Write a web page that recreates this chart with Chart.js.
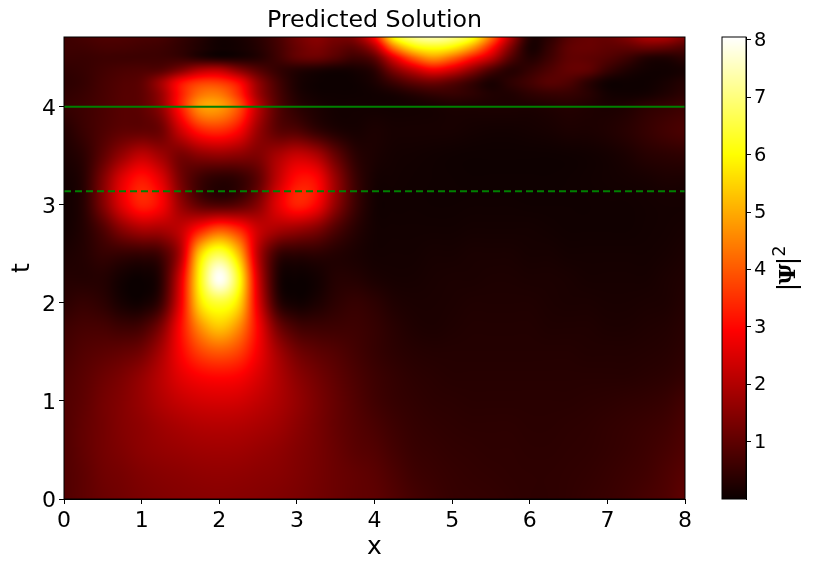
<!DOCTYPE html>
<html><head><meta charset="utf-8">
<script src="https://cdn.jsdelivr.net/npm/chart.js@4"></script>
<style>html,body{margin:0;padding:0;background:#fff;width:816px;height:568px;overflow:hidden}
canvas{position:absolute;top:0;display:block}</style></head>
<body>
<canvas id="main" width="700" height="568" style="left:0"></canvas>
<canvas id="bar" width="116" height="568" style="left:700px"></canvas>
<script>
const xValues=[0,.25,.5,.75,1,1.25,1.5,1.75,2,2.25,2.5,2.75,3,3.25,3.5,3.75,4,4.25,4.5,4.75,5,5.25,5.5,5.75,6,6.25,6.5,6.75,7,7.25,7.5,7.75,8];
const tValues=[0,.25,.5,.75,1,1.25,1.5,1.75,2,2.25,2.5,2.75,3,3.25,3.5,3.75,4,4.125,4.25,4.375,4.5,4.6,4.712];
const xTicks=[0,1,2,3,4,5,6,7,8];
const tTicks=[0,1,2,3,4];
const barTicks=[1,2,3,4,5,6,7,8];
const solidLineT=4, dashedLineT=3.14;
const row000=[.85,1,1.15,1.25,1.35,1.42,1.47,1.5,1.52,1.5,1.47,1.42,1.35,1.25,1.15,1.05,1,.85,.7,.6,.52,.5,.48,.45,.42,.42,.45,.5,.55,.62,.72,.82,1];
const row025=[.85,1,1.2,1.3,1.42,1.5,1.55,1.6,1.62,1.6,1.55,1.5,1.4,1.28,1.15,1.05,.95,.78,.62,.55,.5,.47,.45,.43,.42,.42,.44,.47,.52,.58,.65,.78,.92];
const row050=[.85,1.05,1.25,1.4,1.55,1.65,1.72,1.78,1.8,1.78,1.7,1.6,1.45,1.3,1.12,.95,.85,.68,.55,.5,.46,.44,.42,.42,.4,.4,.42,.44,.48,.53,.6,.7,.82];
const row075=[.85,1.05,1.25,1.45,1.6,1.78,1.92,2.02,2.05,2.02,1.92,1.78,1.55,1.32,1.08,.9,.75,.6,.5,.45,.42,.4,.4,.4,.38,.38,.4,.42,.46,.5,.55,.62,.75];
const row100=[.85,1,1.25,1.45,1.7,2,2.25,2.4,2.45,2.4,2.2,1.95,1.65,1.35,1.08,.85,.65,.52,.45,.4,.38,.36,.36,.36,.36,.36,.36,.38,.4,.43,.46,.52,.65];
const row125=[.8,.95,1.15,1.35,1.65,2.1,2.6,2.9,3,2.9,2.5,2,1.55,1.25,1,.78,.6,.48,.4,.36,.33,.33,.33,.33,.33,.33,.33,.33,.33,.33,.36,.4,.48];
const row150=[.7,.85,.95,1.05,1.25,1.9,2.9,3.7,4,3.7,2.8,1.85,1.25,1,.85,.68,.52,.4,.33,.3,.3,.3,.3,.3,.3,.3,.3,.28,.28,.28,.3,.33,.4];
const row175=[.6,.7,.7,.6,.7,1.4,3,4.6,5.3,4.6,2.9,1.3,.7,.6,.6,.6,.5,.35,.25,.22,.25,.28,.28,.28,.28,.25,.25,.25,.22,.22,.25,.28,.35];
const row200=[.4,.5,.4,.15,.1,.6,2.7,5.6,6.4,5.6,2.6,.5,.1,.2,.4,.5,.4,.25,.2,.2,.22,.25,.25,.25,.25,.22,.2,.2,.18,.18,.2,.22,.3];
const row225=[.3,.3,.3,.1,.03,.4,2.5,6,8,6.2,2.4,.3,.03,.1,.3,.3,.2,.15,.15,.18,.2,.2,.22,.22,.2,.2,.18,.15,.15,.15,.15,.2,.25];
const row250=[.2,.3,.5,.5,.5,.7,2,5.4,6.6,5.2,2.1,.6,.4,.4,.3,.2,.12,.12,.12,.15,.15,.18,.18,.18,.15,.15,.12,.12,.12,.12,.12,.15,.2];
const row275=[.1,.3,.8,1.5,1.9,1.9,2.2,3.2,3.9,3.4,2.3,1.9,1.7,1.4,.8,.35,.12,.1,.1,.1,.1,.12,.12,.12,.12,.1,.08,.08,.08,.08,.1,.12,.15];
const row300=[.08,.35,1.4,2.6,3.3,2.9,1.7,1,.8,.95,1.5,2.6,3.3,2.9,1.6,.6,.12,.08,.08,.07,.07,.08,.08,.08,.07,.07,.07,.07,.08,.08,.1,.12,.12];
const row325=[.1,.35,1.4,2.6,3.2,2.6,1.3,.6,.35,.45,1,2.2,3.1,3,1.7,.6,.15,.1,.08,.07,.06,.05,.05,.05,.05,.05,.06,.08,.1,.12,.15,.2,.2];
const row350=[.2,.4,1,1.7,2.2,1.8,1.3,1.5,1.6,1.5,1.4,1.9,2.3,2,1.1,.4,.2,.12,.1,.08,.06,.05,.05,.05,.05,.05,.06,.08,.12,.2,.32,.38,.42];
const row375=[.3,.55,.8,1,1.05,1.2,2.3,3.2,3.4,2.9,1.7,1,.85,.5,.25,.15,.2,.15,.15,.15,.15,.12,.1,.1,.12,.15,.2,.2,.25,.35,.5,.65,.75];
const row400=[.5,.6,.75,.9,1,1.6,3.2,4.7,4.8,3.9,2.1,.9,.4,.2,.1,.1,.1,.1,.12,.15,.2,.2,.2,.2,.2,.25,.3,.25,.2,.25,.4,.5,.6];
const row412=[.45,.55,.72,.88,1,1.7,3.2,4.3,4.4,3.5,1.8,.8,.25,.08,.05,.05,.08,.15,.3,.45,.5,.4,.25,.25,.4,.5,.5,.35,.12,.08,.12,.25,.4];
const row425=[.4,.5,.7,.85,1,1.8,3,3.6,3.6,3,1.6,.7,.2,.05,.03,.05,.2,.6,1,1.2,.95,.55,.2,.4,.65,.9,.8,.4,.08,.05,.05,.15,.3];
const row437=[.45,.52,.65,.75,.8,.9,1.4,2,2.1,1.5,.9,.5,.3,.2,.12,.15,.4,1.4,2.2,2.8,2.4,1.6,.8,.35,.5,.8,1.05,1,.55,.25,.1,.08,.15];
const row450=[.55,.55,.6,.6,.6,.6,.55,.35,.2,.2,.3,.6,1,1.1,.85,.6,1,2.6,4,4.75,4.2,3.2,2.2,.9,.3,.6,1,1,.85,.6,.3,.25,.4];
const row460=[.6,.62,.7,.7,.65,.6,.45,.25,.08,.12,.3,.65,1.1,1.35,1.1,1,1.9,4.3,5.7,6.1,5.8,4.8,3.2,1.4,.2,.5,1,1.1,1,1,1.1,1,.8];
const row471=[.6,.7,.8,.8,.75,.7,.5,.3,.1,.15,.35,.7,1.2,1.5,1.3,1.5,3,6,7.1,7.4,7.1,6.3,4.3,2,.3,.4,.9,1.1,1.1,1.4,1.9,1.9,1.4];
const heat=[row000,row025,row050,row075,row100,row125,row150,row175,row200,row225,row250,row275,row300,row325,row350,row375,row400,row412,row425,row437,row450,row460,row471];

const FONT='"DejaVu Sans"';
const vMin=0, vMax=8.05;
function hot(v){
  const f=Math.min(1,Math.max(0,(v-vMin)/(vMax-vMin)));
  const r=f<.365?.0416+f/.365*.9584:1;
  const g=f<.365?0:f<.746?(f-.365)/.381:1;
  const b=f<.746?0:(f-.746)/.254;
  return [r*255,g*255,b*255];
}
function cr(p0,p1,p2,p3,s){
  return p1+.5*s*(p2-p0+s*(2*p0-5*p1+4*p2-p3+s*(3*(p1-p2)+p3-p0)));
}
function fracIndex(list,val){
  let i=0;
  while(i<list.length-2&&val>list[i+1])i++;
  return [i,Math.min(1,Math.max(0,(val-list[i])/(list[i+1]-list[i])))];
}
function sample(ix,sx,it,st){
  const nr=heat.length,nc=xValues.length,vals=[];
  for(let j=-1;j<=2;j++){
    const row=heat[Math.min(nr-1,Math.max(0,it+j))];
    const at=k=>row[Math.min(nc-1,Math.max(0,ix+k))];
    vals.push(cr(at(-1),at(0),at(1),at(2),sx));
  }
  return cr(vals[0],vals[1],vals[2],vals[3],st);
}
const heatPlugin={id:'heat',beforeDatasetsDraw(c){
  const a=c.chartArea,w=Math.round(a.right-a.left),h=Math.round(a.bottom-a.top);
  const off=document.createElement('canvas');off.width=w;off.height=h;
  const oc=off.getContext('2d'),img=oc.createImageData(w,h);
  const xs=[];for(let i=0;i<w;i++)xs.push(fracIndex(xValues,c.scales.x.getValueForPixel(a.left+i+.5)));
  let p=0;
  for(let j=0;j<h;j++){
    const [it,st]=fracIndex(tValues,c.scales.y.getValueForPixel(a.top+j+.5));
    for(let i=0;i<w;i++){
      const col=hot(sample(xs[i][0],xs[i][1],it,st));
      img.data[p++]=col[0];img.data[p++]=col[1];img.data[p++]=col[2];img.data[p++]=255;
    }
  }
  oc.putImageData(img,0,0);
  c.ctx.drawImage(off,a.left,a.top);
}};
const framePlugin={id:'frame',afterDraw(c){
  const a=c.chartArea,x=c.ctx;
  x.save();x.strokeStyle='#000';x.lineWidth=1;x.setLineDash([]);
  x.strokeRect(a.left,a.top,a.right-a.left,a.bottom-a.top);x.restore();
}};
function tickGrid(){return {display:true,drawOnChartArea:false,drawTicks:true,tickLength:5,tickWidth:1,tickColor:'#000'};}

new Chart(document.getElementById('main'),{
  type:'scatter',
  data:{datasets:[
    {label:'t = 4',data:[{x:xValues[0],y:solidLineT},{x:xValues[32],y:solidLineT}],showLine:true,borderColor:'#008000',borderWidth:2,pointRadius:0},
    {label:'t = 3.14',data:[{x:xValues[0],y:dashedLineT},{x:xValues[32],y:dashedLineT}],showLine:true,borderColor:'#008000',borderWidth:2,borderDash:[7,4],pointRadius:0}
  ]},
  options:{
    responsive:false,animation:false,
    layout:{padding:{left:0,right:15,top:0,bottom:0}},
    plugins:{
      legend:{display:false},tooltip:{enabled:false},
      title:{display:true,text:'Predicted Solution',fullSize:false,color:'#000',
        font:{family:FONT,size:23.7,weight:'normal',lineHeight:1},padding:{top:9.5,bottom:3.8}}
    },
    scales:{
      x:{type:'linear',min:0,max:8,
        afterBuildTicks(s){s.ticks=xTicks.map(v=>({value:v}));},
        afterFit(s){s.height=69;},
        grid:tickGrid(),border:{display:true,color:'#000',width:1},
        ticks:{color:'#000',font:{family:FONT,size:22},padding:4,maxRotation:0,autoSkip:false},
        title:{display:true,text:'x',color:'#000',font:{family:FONT,size:25},padding:{top:6,bottom:6}}},
      y:{type:'linear',min:0,max:4.712,
        afterBuildTicks(s){s.ticks=tTicks.map(v=>({value:v}));},
        afterFit(s){s.width=64;},
        grid:tickGrid(),border:{display:true,color:'#000',width:1},
        ticks:{color:'#000',font:{family:FONT,size:22},padding:3,labelOffset:2.5,autoSkip:false},
        title:{display:true,text:'t',color:'#000',font:{family:FONT,size:25},padding:{top:7,bottom:7}}}
    }
  },
  plugins:[heatPlugin,framePlugin]
});

const barPlugin={id:'cbar',beforeDatasetsDraw(c){
  const a=c.chartArea,x=c.ctx,s=c.scales.y;
  for(let j=Math.round(a.top);j<Math.round(a.bottom);j++){
    const col=hot(s.getValueForPixel(j+.5));
    x.fillStyle='rgb('+col.map(Math.round).join(',')+')';
    x.fillRect(a.left,j,a.right-a.left,1);
  }
},afterDraw(c){
  const x=c.ctx;
  const put=(txt,font,bx,cy)=>{
    x.save();x.fillStyle='#000';x.translate(bx,cy);x.rotate(-Math.PI/2);
    x.textAlign='center';x.textBaseline='alphabetic';x.font=font;x.fillText(txt,0,0);x.restore();
  };
  put('|','25px "DejaVu Sans"',95,287);
  put('Ψ','bold 23px "DejaVu Serif"',95,274);
  put('|','25px "DejaVu Sans"',95,261);
  put('2','17.5px "DejaVu Sans"',85,251);
}};
new Chart(document.getElementById('bar'),{
  type:'scatter',
  data:{datasets:[{label:'colour scale',data:barTicks.map(v=>({x:0,y:v})),pointRadius:0}]},
  options:{
    responsive:false,animation:false,
    layout:{padding:{left:22,right:0,top:37,bottom:69}},
    plugins:{legend:{display:false},tooltip:{enabled:false}},
    scales:{
      x:{display:false,min:0,max:1},
      y:{type:'linear',position:'right',min:vMin,max:vMax,
        afterBuildTicks(s){s.ticks=barTicks.map(v=>({value:v}));},
        afterFit(s){s.width=70;},
        grid:tickGrid(),border:{display:true,color:'#000',width:1},
        ticks:{color:'#000',font:{family:FONT,size:19.4},padding:3,labelOffset:1,autoSkip:false}}
    }
  },
  plugins:[barPlugin,framePlugin]
});
</script>
</body></html>
